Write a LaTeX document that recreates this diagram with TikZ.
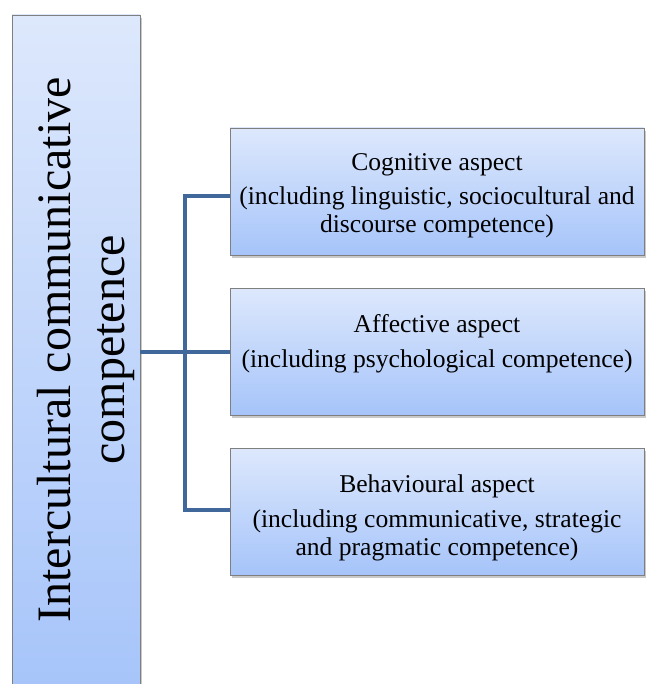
\documentclass[tikz,border=0pt]{standalone}
\usepackage{fontspec}
\setmainfont{Liberation Serif}
\usetikzlibrary{shadows}
\definecolor{boxtop}{HTML}{DDE8FC}
\definecolor{boxbot}{HTML}{A6C4FA}
\definecolor{boxline}{HTML}{7F7F7F}
\definecolor{connc}{HTML}{41689A}
\tikzset{
  aspectbox/.style={rectangle, draw=boxline, line width=0.8pt, top color=boxtop, bottom color=boxbot,
    minimum width=414pt, minimum height=127pt, inner sep=0pt,
    drop shadow={shadow xshift=2pt, shadow yshift=-3pt, opacity=0.35, fill=black!60}},
  rootbox/.style={rectangle, draw=boxline, line width=0.8pt, top color=boxtop, bottom color=boxbot,
    minimum width=128pt, minimum height=685pt, inner sep=0pt,
    drop shadow={shadow xshift=2pt, shadow yshift=-3pt, opacity=0.35, fill=black!60}},
  aspecttext/.style={anchor=north, inner sep=0pt, align=center,
    font=\fontsize{25.6pt}{28pt}\selectfont},
  roottext/.style={rotate=90, inner sep=0pt, align=center,
    font=\fontsize{48pt}{54pt}\selectfont},
  conn/.style={draw=connc, line width=4pt}
}
\begin{document}
\begin{tikzpicture}[x=1pt,y=-1pt]
\useasboundingbox[fill=white] (0,0) rectangle (646,684);
\node[rootbox] (root) at (76,357.5) {};
\node[roottext] (roott) at (86,350) {Intercultural communicative\\competence};
\node[aspectbox] (c1) at (437,191.5) {};
\node[aspectbox] (c2) at (437,351.5) {};
\node[aspectbox] (c3) at (437,511.5) {};
\node[aspecttext] (t1) at ([yshift=-25.5pt]c1.north) {Cognitive aspect\\[6pt](including linguistic, sociocultural and\\discourse competence)};
\node[aspecttext] (t2) at ([yshift=-26.5pt]c2.north) {Affective aspect\\[7pt](including psychological competence)};
\node[aspecttext] (t3) at ([yshift=-26.5pt]c3.north) {Behavioural aspect\\[7pt](including communicative, strategic\\and pragmatic competence)};
\coordinate (j) at (185,352);
\draw[conn] (root.east |- c2.west) -- (c2.west);
\draw[conn] ([yshift=-4.5pt]c1.west) -| (j) |- ([yshift=1.5pt]c3.west);
\end{tikzpicture}
\end{document}
